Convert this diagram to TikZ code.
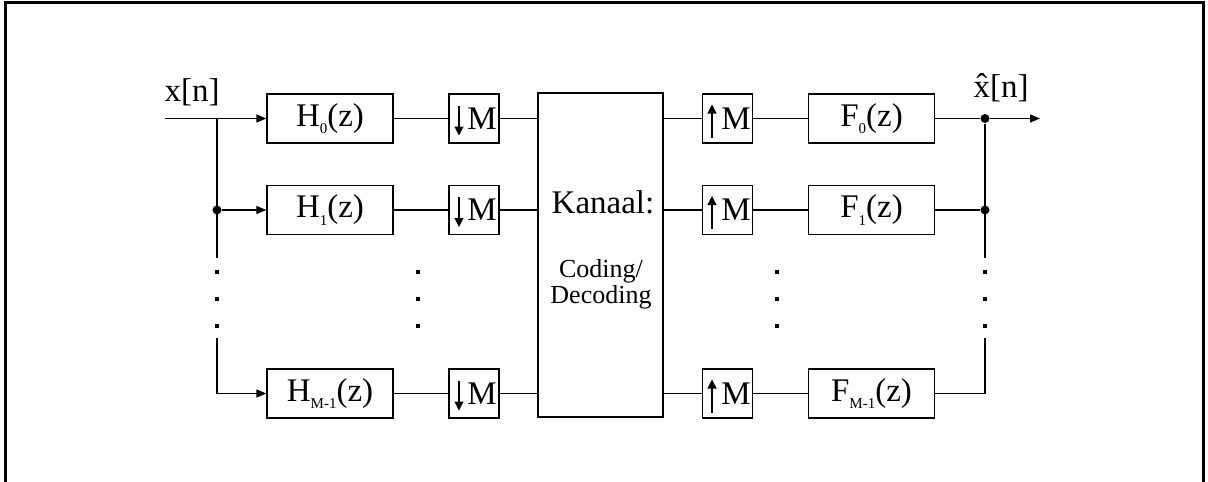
\documentclass[tikz,border=0pt]{standalone}
\usepackage{fontspec}
\setmainfont{Liberation Serif}
\usetikzlibrary{arrows.meta}
\newcommand\sbs[1]{\raisebox{-0.22em}{\fontsize{15}{15}\selectfont #1}}
\begin{document}
\begin{tikzpicture}[x=1pt,y=-1pt,
  line width=1.3pt,
  blk/.style={draw,line width=1.3pt,minimum width=126pt,minimum height=49pt,inner sep=0pt,font=\fontsize{33}{36}\selectfont},
  rate/.style={draw,line width=1.3pt,minimum width=50pt,minimum height=49pt,inner sep=0pt},
  tip/.style={-{Triangle[length=10pt,width=8pt]}},
  jdot/.style={circle,fill,inner sep=0pt,minimum size=9pt},
  edot/.style={fill,inner sep=0pt,minimum size=4.5pt},
  lbl/.style={font=\fontsize{33}{36}\selectfont,inner sep=0pt,anchor=base}]
\useasboundingbox (0,0) rectangle (1208,482);
\draw[line width=3pt] (5,500) -- (5,2.5) -- (1203.5,2.5) -- (1203.5,500);

% H filters
\node[blk] (h0) at (330,118.5) {H\sbs{0}(z)};
\node[blk] (h1) at (330,210) {H\sbs{1}(z)};
\node[blk] (h2) at (330,393.5) {H\sbs{M-1}(z)};
% down-samplers
\foreach \i/\y in {0/118.5,1/210,2/393.5}{
  \node[rate] (d\i) at (474,\y) {};
  \node[lbl,anchor=center] (dm\i) at (482,\y) {M};
  \draw[-{Triangle[length=9pt,width=9pt]},line width=1.1pt] ([xshift=-15pt,yshift=13pt]d\i.center) coordinate (da\i) -- ([xshift=-15pt,yshift=-17pt]d\i.center) coordinate (db\i);
}
% channel
\node[draw,line width=1.3pt,minimum width=125pt,minimum height=324pt,inner sep=0pt] (k) at (600.5,255) {};
\node[lbl] (kt) at (603,213) {Kanaal:};
\node[font=\fontsize{26}{27}\selectfont,inner sep=0pt,anchor=base] (ct) at (601,277) {Coding/};
\node[font=\fontsize{26}{27}\selectfont,inner sep=0pt,anchor=base] (dt) at (601,303) {Decoding};
% up-samplers
\foreach \i/\y in {0/118.5,1/210,2/393.5}{
  \node[rate] (u\i) at (727.5,\y) {};
  \node[lbl,anchor=center] (um\i) at (736,\y) {M};
  \draw[-{Triangle[length=9pt,width=9pt]},line width=1.1pt] ([xshift=-15.5pt,yshift=-19pt]u\i.center) coordinate (ua\i) -- ([xshift=-15.5pt,yshift=14pt]u\i.center) coordinate (ub\i);
}
% F filters
\node[blk] (f0) at (871.5,118.5) {F\sbs{0}(z)};
\node[blk] (f1) at (871.5,210) {F\sbs{1}(z)};
\node[blk] (f2) at (871.5,393.5) {F\sbs{M-1}(z)};

% input
\coordinate (in) at (165,118.5);
\node[lbl] (xl) at (192,101) {x[n]};
\node[jdot] (j1) at (217,210) {};
\coordinate (jtop) at (217,118.5);
\coordinate (jgap1) at (217,258);
\coordinate (jgap2) at (217,338);
\coordinate (jbot) at (217,393.5);
\draw[tip] (in) -- (h0.west);
\draw (jtop) -- (jgap1);
\draw[tip] (j1) -- (h1.west);
\draw[tip] (jgap2) -- (jbot) -- (h2.west);
\foreach \yy [count=\n] in {272,299,326}{
  \node[edot] (ld\n) at (217,\yy) {};
  \node[edot] (md\n) at (418,\yy) {};
  \node[edot] (nd\n) at (777,\yy) {};
  \node[edot] (rd\n) at (985,\yy) {};
}
% H -> down -> channel -> up -> F
\foreach \i in {0,1,2}{
  \draw (h\i.east) -- (d\i.west);
  \draw (d\i.east) -- (k.west |- d\i.east);
  \draw (k.east |- u\i.west) -- (u\i.west);
  \draw (u\i.east) -- (f\i.west);
}
% output
\node[jdot] (o0) at (985,118.5) {};
\node[jdot] (o1) at (985,210) {};
\coordinate (ogap1) at (985,258);
\coordinate (ogap2) at (985,338);
\coordinate (obot) at (985,393.5);
\coordinate (out) at (1040,118.5);
\draw (f0.east) -- (o0);
\draw (f1.east) -- (o1);
\draw (o0) -- (ogap1);
\draw (f2.east) -- (obot) -- (ogap2);
\draw[tip] (o0) -- (out);
\node[lbl] (yl) at (1001,97) {\^{x}[n]};
\end{tikzpicture}
\end{document}
